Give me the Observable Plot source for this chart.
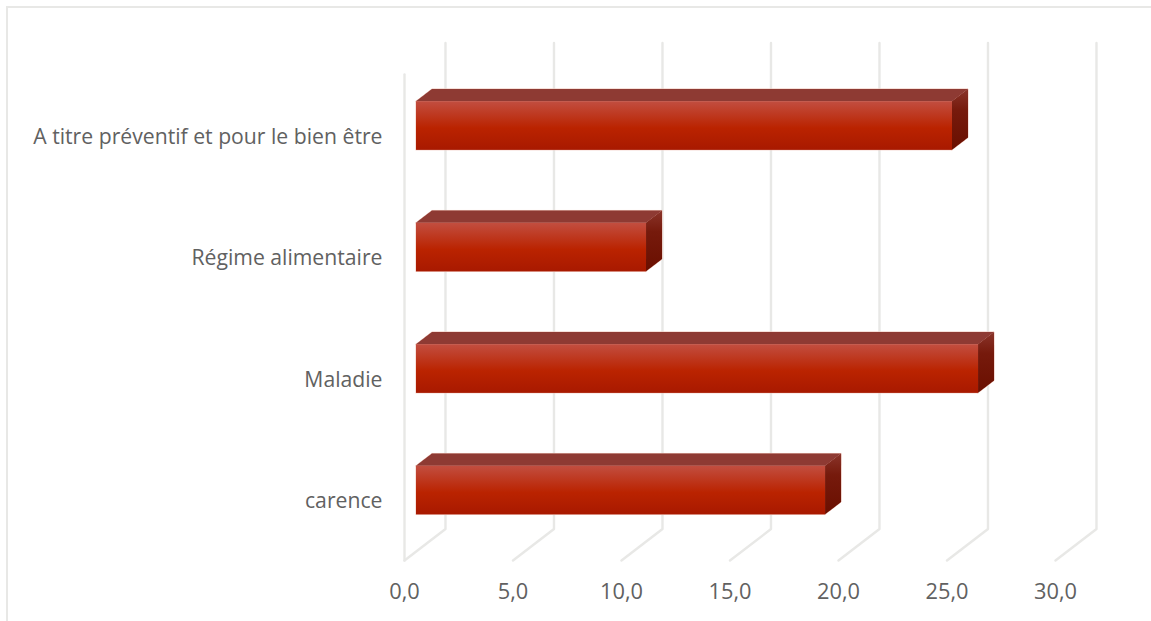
<!DOCTYPE html>
<html lang="fr">
<head>
<meta charset="utf-8">
<script src="https://cdn.jsdelivr.net/npm/d3@7"></script>
<script src="https://cdn.jsdelivr.net/npm/@observablehq/plot@0.6"></script>
<style>
  html, body { margin: 0; padding: 0; background: #fff; overflow: hidden; }
  #chart { position: absolute; left: 0; top: 0; width: 1151px; height: 621px; }
  #chart svg { display: block; }
  #edge { position: absolute; left: 6px; top: 6px; right: 0; bottom: 0;
          border-left: 2px solid #e8e8e6; border-top: 2px solid #e8e8e6; }
</style>
</head>
<body>
<div id="edge"></div>
<div id="chart"></div>
<script>
// Reasons for use, listed from the bottom of the chart to the top
const categories = ["carence", "Maladie", "Régime alimentaire", "A titre préventif et pour le bien être"];
const values = [18.85, 25.9, 10.6, 24.7];
const xTicks = [0, 5, 10, 15, 20, 25, 30];

// Oblique projection: how far one full unit of depth shifts a point, in data units
const depthX = 1.889;
const depthY = 0.259;
const project = (x, y, depth) => ({x: x + depth * depthX, y: y + depth * depthY});

// Bars occupy a slice of the depth and a fixed share of each category band
const barFrontDepth = 0.293;
const barBackDepth = 0.683;
const barHalf = 0.2;
const yFloor = -0.5;
const yCeil = 3.5;

const bars = values.map((v, i) => ({
  i, v,
  frontX0: project(0, i, barFrontDepth).x,
  frontX1: project(v, i, barFrontDepth).x,
  backX0: project(0, i, barBackDepth).x,
  backX1: project(v, i, barBackDepth).x,
  frontBottom: project(0, i - barHalf, barFrontDepth).y,
  frontTop: project(0, i + barHalf, barFrontDepth).y,
  backBottom: project(0, i - barHalf, barBackDepth).y,
  backTop: project(0, i + barHalf, barBackDepth).y
}));

// Top face as a two-point band running from the front edge to the back edge
const topFace = bars.flatMap(b => [
  {i: b.i, y: b.frontTop, x1: b.frontX0, x2: b.frontX1},
  {i: b.i, y: b.backTop, x1: b.backX0, x2: b.backX1}
]);
// End face as a two-point band running from the front edge to the back edge
const sideFace = bars.flatMap(b => [
  {i: b.i, x: b.frontX1, y1: b.frontBottom, y2: b.frontTop},
  {i: b.i, x: b.backX1, y1: b.backBottom, y2: b.backTop}
]);

// Gridlines: along the floor from the front, then up the back wall
const gridLines = xTicks.flatMap(t => [
  {t, ...project(t, yFloor, 0)},
  {t, ...project(t, yFloor, 1)},
  {t, ...project(t, yCeil, 1)}
]);
const leftWall = [project(0, yFloor, 0), project(0, yCeil, 0)];

const gridColor = "#e8e8e6";
const textColor = "#616161";
const comma = d => d.toFixed(1).replace(".", ",");

// Gradient definitions used by the bar faces
function gradients() {
  const svg = d3.create("svg:g");
  const defs = svg.append("defs");
  const add = (id, stops) => {
    const g = defs.append("linearGradient").attr("id", id)
      .attr("x1", 0).attr("y1", 0).attr("x2", 0).attr("y2", 1);
    stops.forEach(([o, c]) => g.append("stop").attr("offset", o).attr("stop-color", c));
  };
  add("barFront", [[0, "#c24e40"], [0.55, "#ba2300"], [1, "#a81900"]]);
  add("barSide", [[0, "#8a342a"], [0.35, "#761a0c"], [1, "#6a0f00"]]);
  return svg.node();
}

const faces = (extra) => [
  Plot.areaX(topFace, {y: "y", x1: "x1", x2: "x2", z: "i", fill: "#8e3a33", ...extra}),
  Plot.areaY(sideFace, {x: "x", y1: "y1", y2: "y2", z: "i", fill: "url(#barSide)", ...extra}),
  Plot.rect(bars, {x1: "frontX0", x2: "frontX1", y1: "frontBottom", y2: "frontTop", fill: "url(#barFront)", ...extra})
];

const chart = Plot.plot({
  width: 1151,
  height: 621,
  marginLeft: 404,
  marginRight: 96,
  marginTop: 74,
  marginBottom: 61,
  style: {fontFamily: "'Open Sans', sans-serif", background: "transparent"},
  x: {domain: [0, 30]},
  y: {domain: [yFloor, yCeil]},
  marks: [
    gradients,
    Plot.line(gridLines, {x: "x", y: "y", z: "t", stroke: gridColor, strokeWidth: 2.4}),
    Plot.line(leftWall, {x: "x", y: "y", stroke: gridColor, strokeWidth: 2.4}),
    // Pale halo first, then the faces on top of it
    ...faces({stroke: "#efc6bc", strokeWidth: 1}),
    ...faces({}),
    Plot.axisX({
      ticks: xTicks, tickSize: 0, tickPadding: 22, tickFormat: comma, dy: 1,
      fontSize: 21.8, color: textColor, label: null, anchor: "bottom"
    }),
    Plot.axisY({
      ticks: categories.map((c, i) => i), tickSize: 0, tickPadding: 22, dy: 1.5,
      tickFormat: i => categories[i],
      fontSize: 21.2, color: textColor, label: null, anchor: "left"
    })
  ]
});
document.getElementById("chart").appendChild(chart);
</script>
</body>
</html>
